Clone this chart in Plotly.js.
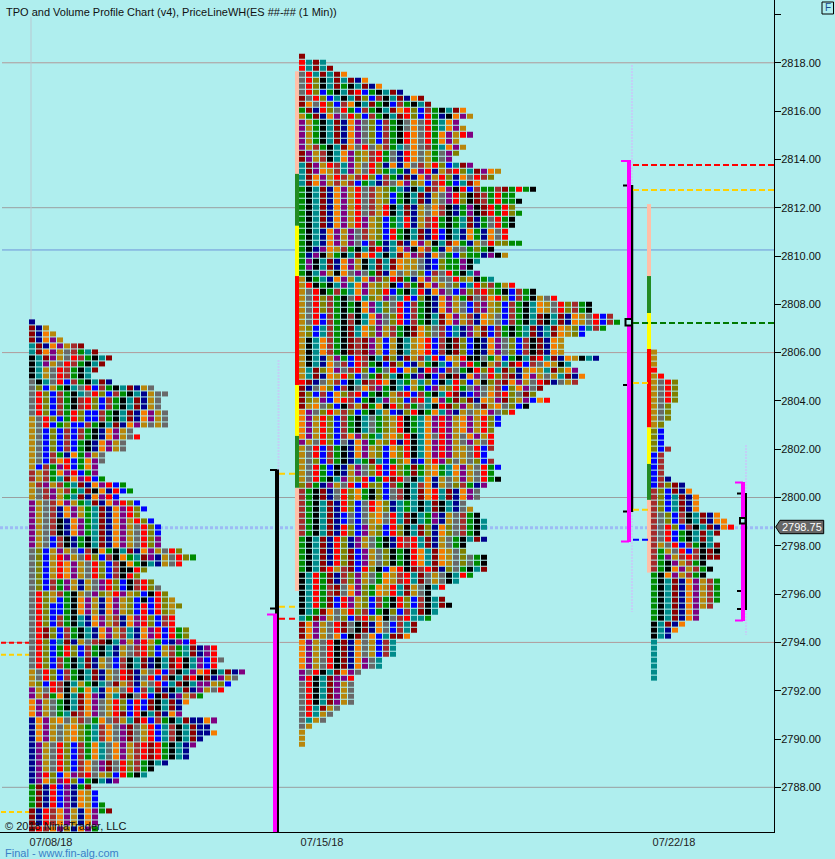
<!DOCTYPE html>
<html><head><meta charset="utf-8">
<script src="https://cdn.plot.ly/plotly-3.0.1.min.js"></script>
<style>html,body{margin:0;padding:0;background:#AFEEEE}#c{width:835px;height:859px}</style>
</head><body><div id="c"></div>
<script>
// TPO row lengths, top price downward
const topPrice1 = 2807.25;
const widths1 = [1,3,4,5,8,10,12,11,10,9,12,18,20,19,19,20,20,20,15,16,14,14,11,11,10,10,11,14,15,13,16,17,16,18,19,19,19,19,22,24,22,17,16,
18,19,20,21,22,21,21,21,23,23,24,27,27,28,27,31,30,29,28,25,23,22,22,27,26,27,25,24,23,23,20,18,17,13,9,10,10,11,12,10,10,10];
const topPrice2 = 2818.25;
const widths2 = [1,4,5,7,10,12,15,18,19,24,25,23,24,25,23,24,23,22,25,29,28,26,34,31,32,31,32,31,31,30,30,32,28,30,26,25,26,28,
31,34,37,42,42,45,46,44,41,38,38,38,43,39,40,41,40,35,34,36,33,31,29,29,28,28,28,28,27,28,29,28,29,27,26,26,24,25,26,
27,27,26,27,24,24,27,27,27,25,23,21,19,21,22,20,19,17,17,16,14,14,14,12,12,9,8,8,8,8,8,6,5,4,2,1,1,1];
const topPrice3 = 2806.0;
const widths3 = [1,1,1,1,2,4,4,4,4,3,3,3,2,2,2,2,3,2,2,2,2,3,5,6,7,7,7,10,11,12,10,9,10,10,10,8,9,8,10,10,10,10,9,7,7,5,4,3,1,1,1,1,1,1,1];

// Colour letters per row band: [first row, letters]
const colors1 = [[0,"N"],[1,"DNY"],[2,"DNOY"],[3,"DNOPY"],[4,"TDNOPYWD"],[5,"TDOPYAWGTD"],[6,"KTDPYARWGKTD"],[7,"KTPYARWGKTD"],[8,"KTYARWGKTD"],[10,"AKTARBWGKTDN"],
[11,"ALBYGKTARBWGKTDNYA"],[12,"ARLBWGKTARLBWGKTNYAA"],[13,"ARLBWGKWRLBWGKTDNYA"],[15,"ARLBWGRLBBWGKTDNOPYA"],[16,"YARLBGRLBBWGKTDNOPYA"],[17,"YARBGLBBWGKTDNOPYA"],
[18,"YABLBWBWGKNOPYA"],[19,"YABLBWBWGKNOPYAR"],[20,"YABLBWBGKNOPYA"],[22,"YABWGNOGPYA"],[23,"YABWORBGOPA"],[24,"YBWGPRBGOP"],[25,"WYWGOPRBGP"],[26,"WYWGTDOPRBG"],
[27,"YWPYWGTDNOPRBG"],[28,"YAWPYWGTDKONRBG"],[29,"YAWPYGTDNOPRB"],[30,"PYAWOPYGTDNOPRLB"],[31,"PYAWNOPYGTDNOPRLB"],[33,"PYAWKNOPGTDNOPYRLB"],[34,"PYAWKNOPGTDNOPYARLB"],
[36,"PYABWKNGKTDNOPYARL"],[38,"ALBYPYABWKOGKTDNOPYARLG"],[39,"ALBYRPYARLBWKOGTDPNYARLG"],[40,"ALBYROPYARLBWKOGKTNYARL"],[41,"ALBYROPYARLBWKKRL"],[42,"ALBYROPYARLBWKRL"],
[43,"ALBWGPYNYAPRLBKWRL"],[45,"ARLYWGKYAPLYRPYLBKRLY"],[46,"ARLYBGKOPYNOPYLBKBRLYL"],[47,"ARLBBGKOPYNOPYLBRBRLYL"],[49,"ARLBWGKTNOPYWNOPRLBWRL"],[51,"ARDLBWGKTNOPYWTNOPRBRGL"],
[53,"ARLBTDNYAWDKTPYPRYGBNPBR"],[54,"ARLBGRLBWGKTNYAWRLBYWGTDNPR"],[56,"ARLBWGKTDNYABWKTDNKTDRKTPBR"],[58,"YARLBWGKTDNYARDNYARBWKTPORKTDNP"],[59,"YARLBWGKTDNYARDNARBWKTDRKDNP"],
[60,"YLBRWKTYGKTADYWNYARBTDKTPP"],[61,"PYARWKYGOTNOYARBWTDNKTDN"],[62,"PYWGOKTDOPNYTDKARBKDN"],[63,"OPYAGKTDOPAYRLBRBDKTDN"],[65,"OPYAGTDWOPAYRDBRKTDN"],[66,"NOPYOAYWAGOAWYTDRBWGKTDN"],
[67,"NOPYAYOLGTWOAPDAYRBTWKTDN"],[70,"NPYARLBWGOTAOPYWRDRGKT"],[73,"NPYARLBWOAPDARLWGKTN"],[75,"NPRLBOPWRAYLBRGKT"],[76,"NPOLPRLBGKT"],[77,"GDNRBPN"],[78,"GDNRBPNOYBG"],[81,"DNRWOPYNOPG"],[84,"DRWOPYNOPG"]];
const colors2 = [[0,"D"],[1,"RTDT"],[2,"RTDTD"],[3,"ARTDTDO"],[4,"ARLKTDTDNO"],[5,"ARLKTDGKTDNO"],[6,"ARLBGKTDRBGKTDNO"],[7,"DARLBTKTDLBWKTDNO"],[8,"DOARLBWOKTDGKBWGKTDO"],
[9,"GDNRLARGBWGKTDORLBWGKTDOP"],[10,"YGDNOPARLBWGKTDRLBRGNKOPY"],[11,"PYGKTDNOPALBWGKAOARGTOPY"],[13,"PYGKTDNOPALBWGKROARGOPYR"],[15,"PYWGKTDOARAYWGTAOAWGTOPYA"],[16,"DPYWKTOPLYWRGANROAYGAPL"],
[18,"TDPYRWTPYARLNONOAWYRLB"],[19,"TDPOYWTPYARLGTGNOPRNYWRL"],[20,"TDOPYRWYWRLBWGNDNOPYRLNOARWL"],[21,"TDOPYWYWBGTNWAOPLYBWRGB"],[22,"GKTDNOPYRAWYLGTNKTDWOPKRBWGGWDGR"],[23,"GKTDNOPYRAWYLBGKTDNYAPRLKDWGRG"],
[25,"GKTDNOPYRAWYRKTDNYAOWKNGPKDRGRL"],[27,"GKTDNOPYRPYLBGTRNYWRGKGTDNGAR"],[29,"GKTNOPYPAWYLBRGKTDNRBKTNOGNOAR"],[31,"GKTNOPYPABWGNTDNOPYKTDOGNYARLLG"],[32,"GKNPOYWGKTDRNTOPKOWGNOAAGL"],
[33,"GNPKYGKTDORTKTDOPWNOAGBLG"],[34,"GPKTDNOPYKTDTDOYYANBLG"],[36,"GKTPYKOAPAGDNOAYALBWAR"],[37,"YKGTNOPYTOPWLRDGNOPYAARL"],[38,"YRKGKTPTOPYLYKBWGDOPYALBTRLWG"],[39,"YARKGWGTOPYLRBGKTRNOPABPLWRLGKBWGK"],
[40,"YARLWGKARTLYPATRBLKNOPYGDAWORLBWGK"],[41,"YARLWGKGKOPTLARBWGKNOPYABWPYLBWGKTO"],[43,"YARBWGKWKTOPALRBWGKTDOPYWNOYABWGKTDKTDNO"],[45,"YLBTWGKDTOLPYWGKDOLAWBTNPYDBWGKGTDNTDO"],[47,"YKTOWGKDWDPYBYKTYORBWKDLBKNOPALBWKDNO"],
[50,"YKTNYPGBRWKTDLNDYWTRBOYRKKAGYBGKTDRTDNO"],[51,"YKTNOAWBRWGKBDLBNYGKTBYPRGKYWTDRBWAO"],[52,"YTDLOPAWRLBGARBOLNRPBWAGKRLRTDLNYO"],[53,"YTDNOYRLBAGDLTKGNPKBWKDNOPARLWDNOPYA"],[54,"RDNAYWBKTDWROKTGYTLBKTRLBYKLWDOPYA"],
[55,"DNAOLBWKAOWPGKTBYGBPYLRGAPAYWBLOPA"],[56,"DLBWBOLWRBGKGYWRBWGKTRDNBPAOWRLA"],[57,"DLYPBORWBGKTPYLBWRTOPGDLDNOYP"],[58,"DYOALBKWYDGOKRLWGATKRDLPYA"],[59,"OPALRYWLBGKTYBNLRKGOTPNYAY"],[60,"OPYRLBWGKTAGLYRKGTOPRPY"],[63,"OPYRLBWOPLGTYOLRKTOARPYA"],
[64,"PYARLBANOPGYLRNRKTOPRPYA"],[65,"YARBWGKNOPYLBOLRKTOPRPY"],[67,"YALBWGKNTGDTBGLONBYRPLA"],[68,"YARGBKNYPALRBRLGDGYOGTOP"],[70,"YARGKTPYLRBGRDRAKTONYAYP"],[71,"LWGNPYARBRLLBWGKTWONYA"],[72,"WGKDNARLOGKLBAWKTDORTDNOPA"],
[74,"WGKTDNRLBAROLNTGTKTDKTNAY"],[76,"WGKTDNBABAYOARTDKTGPNYA"],[78,"WGKTDNRLBPYLBRLKTDLNOLA"],[80,"GKTDNRLNPYAGKNRWRTDNYA"],[82,"GKTDNRLDBPYALKGKROTDOYALA"],[85,"GKTDRYWDBRLKBORKDWRDNLA"],
[86,"KTRGDNWLPYAGOYWRTDAYA"],[88,"KTRGWDAOPLGOYRTDYA"],[90,"KTRGDBRPYLBWGKRLBWKTD"],[92,"KTGDOAYRLWBGKLBWTD"],[93,"TGDPYALBWRLOKAWRT"],[94,"DOPYARDAKDNOABWT"],[96,"DOPYAOBKDAOBTD"],[97,"OPYARKDNOAYBWT"],[100,"OPYARKDNOPAT"],
[102,"PARKTDOPA"],[103,"PRKTDP"],[104,"ARKTDPYA"],[108,"ARTDYA"],[109,"ARTY"],[110,"ATYA"],[111,"AY"],[112,"Y"]];
const colors3 = [[0,"Y"],[3,"R"],[4,"YR"],[5,"YARL"],[9,"YAL"],[12,"YL"],[13,"LB"],[16,"LBW"],[17,"BW"],[21,"BWN"],[22,"BWLDN"],[23,"WLBDNO"],[24,"WLBTDNO"],[27,"WALBWKTDNO"],[28,"WALBWKTDNOO"],[29,"WARLBWKTDNOR"],
[30,"WARBGKTDTD"],[32,"WYARBWGKTD"],[33,"WGYARBWKDK"],[34,"WGPYWRWKDD"],[35,"WGKPYWGK"],[36,"WGKOPYWGK"],[37,"GKOPYWGK"],[38,"GKTDNOPYWG"],[42,"GKTDNOPYW"],[43,"GKTDNOP"],[45,"KTDNO"],[46,"KTNO"],[47,"KTN"],[48,"T"]];

// Price markers
const gridGray = [2818,2812,2806,2800,2794,2788];
const gridBlue = [2810.25];
const lastPrice = 2798.75;
const lastPriceLabel = "2798.75";
const yTicks = [2788,2790,2792,2794,2796,2798,2800,2802,2804,2806,2808,2810,2812,2814,2816,2818,2820];
const dateLabels = ["07/08/18","07/15/18","07/22/18"];
const valueBands2 = [[2817.65,2813.4,"#FFC0A8"],[2813.4,2811.25,"#228B22"],[2811.25,2809.17,"#FFFF00"],[2809.17,2804.66,"#FF0000"],[2804.66,2802.55,"#FFFF00"],[2802.55,2800.4,"#228B22"],[2800.4,2796.13,"#FFC0A8"]];
const valueBands3 = [[2812.15,2809.17,"#FFC0A8"],[2809.17,2807.64,"#228B22"],[2807.64,2806.15,"#FFFF00"],[2806.15,2802.9,"#FF0000"],[2802.9,2801.39,"#FFFF00"],[2801.39,2799.9,"#228B22"],[2799.9,2796.89,"#FFC0A8"]];

const letters = "RBNDOPGTKALYW";
const palette = ["#FF0000","#0000FF","#00008B","#8B0000","#F57C00","#800080","#008B00","#008B8B","#000000","#696969","#808000","#B8860B","#A52A2A"];
const scale = [];
palette.forEach((c,i)=>{scale.push([i/13,c]);scale.push([(i+1)/13,c]);});

function profile(x0, topP, widths, cols){
  const maxW = Math.max(...widths);
  const z = widths.map((w,r)=>{
    let t = cols[0][1];
    cols.forEach(c=>{ if(c[0]<=r) t=c[1]; });
    const row = new Array(maxW).fill(null);
    for(let i=0;i<w;i++) row[i]=letters.indexOf(t[i%t.length])+0.5;
    return row;
  }).reverse();
  return {type:"heatmap",z:z,x0:x0+3.5,dx:7,y0:topP-(widths.length-1)*0.25,dy:0.25,xgap:1,ygap:1,
    colorscale:scale,zmin:0,zmax:13,showscale:false,hoverinfo:"skip",zsmooth:false};
}
const traces=[profile(29,topPrice1,widths1,colors1),profile(299,topPrice2,widths2,colors2),profile(651,topPrice3,widths3,colors3)];

const pMin=2786.15,pMax=2820.6;
const py=y=>2800+(497.5-y)/24.15;
const W=774,H=832;
const shapes=[];
function hl(x0,x1,p,color,w,dash,layer){shapes.push({type:"line",xref:"x",yref:"y",x0,x1,y0:p,y1:p,line:{color,width:w,dash:dash||"solid"},layer:layer||"above"});}
function vl(x,p0,p1,color,w,dash,layer){shapes.push({type:"line",xref:"x",yref:"y",x0:x,x1:x,y0:p0,y1:p1,line:{color,width:w,dash:dash||"solid"},layer:layer||"above"});}
gridGray.forEach(p=>hl(2,W,p,(p==2812||p==2800||p==2788)?"#9a9fa0":"#b09a9a",1,"solid","below"));
gridBlue.forEach(p=>hl(2,W,p,"#6E94D8",1,"solid","below"));
hl(0,W,lastPrice,"#9DBBF5",3,"3px,2px","below");
// ghost volume columns
vl(31,py(320),py(17),"#B9C8D0",1,"solid","below");
vl(278.5,py(360),py(682),"#C3CFF6",2,"2px,1px","below");
vl(632,py(65),py(612),"#C3CFF6",2,"2px,1px","below");
vl(746,py(445),py(635),"#C3CFF6",2,"2px,1px","below");
// value bars
valueBands2.forEach(b=>shapes.push({type:"rect",xref:"x",yref:"y",x0:295,x1:299,y0:b[0],y1:b[1],fillcolor:b[2],line:{width:0},layer:"above"}));
valueBands3.forEach(b=>shapes.push({type:"rect",xref:"x",yref:"y",x0:647,x1:651,y0:b[0],y1:b[1],fillcolor:b[2],line:{width:0},layer:"above"}));
// left session dashes
const red="#FF0000",gold="#FFD000",mag="#FF00FF";
hl(1,29,py(642.7),red,2,"5px,3px");
hl(1,29,py(654.7),gold,2,"5px,3px");
hl(1,29,py(812),gold,2,"5px,3px");
// bracket 1
vl(277,py(469.5),py(832),"#000",4);
hl(270,277,py(470),"#000",2);
hl(270,277,py(608.5),"#000",2);
vl(275,py(614),py(832),mag,4);
hl(267,277,py(614.5),mag,2);
hl(279,299,py(473.7),gold,2,"6px,4px");
hl(279,299,py(606.7),gold,2,"6px,4px");
hl(279,299,py(618.7),red,2,"6px,4px");
// bracket 2
vl(632,py(185),py(512),"#000",2.5);
vl(629,py(160),py(542),mag,4);
hl(621,629,py(161),mag,2);
hl(621,629,py(541.5),mag,2);
hl(623,627,py(185.5),"#000",2);
hl(623,627,py(385),"#000",2);
hl(623,627,py(511.5),"#000",2);
shapes.push({type:"rect",xref:"x",yref:"y",x0:625.5,x1:632,y0:py(319),y1:py(325.5),fillcolor:"#AFEEEE",line:{color:"#000",width:2},layer:"above"});
hl(633,W,py(165),red,2,"6px,3px");
hl(633,W,py(190),gold,2,"6px,3px");
hl(633,W,py(323),"#007800",2,"6px,3px");
hl(633,651,py(383),gold,2,"6px,3px");
hl(633,648,py(509.7),gold,2,"6px,3px");
hl(633,648,py(539.7),"#0000FF",2,"6px,3px");
// bracket 3
vl(746,py(493),py(610),"#000",2);
vl(743,py(482),py(621),mag,4);
hl(735,743,py(482.5),mag,2);
hl(735,743,py(620.5),mag,2);
hl(737,741,py(493.5),"#000",2);
hl(737,741,py(591),"#000",2);
hl(737,741,py(609),"#000",2);
shapes.push({type:"rect",xref:"x",yref:"y",x0:740,x1:745.5,y0:py(518),y1:py(523.5),fillcolor:"#AFEEEE",line:{color:"#000",width:2},layer:"above"});
// last price tag and F box
const px=(x,y)=>(x/W).toFixed(5)+","+(1-y/H).toFixed(5);
shapes.push({type:"path",xref:"paper",yref:"paper",path:"M"+px(775.7,527)+"L"+px(780,520.3)+"L"+px(823.7,520.3)+"L"+px(823.7,533.7)+"L"+px(780,533.7)+"Z",fillcolor:"#666666",line:{color:"#000",width:1},layer:"above"});
shapes.push({type:"rect",xref:"paper",yref:"paper",x0:822/W,x1:833.5/W,y0:1-2/H,y1:1-14/H,fillcolor:"rgba(0,0,0,0)",line:{color:"#000",width:1},layer:"above"});

const font="'Liberation Sans', Arial, sans-serif";
const annotations=[
 {xref:"paper",yref:"paper",x:3/W,y:1-826/H,xanchor:"left",yanchor:"middle",text:"© 2018 NinjaTrader, LLC",showarrow:false,font:{family:font,size:11,color:"#111"}},
 {xref:"paper",yref:"paper",x:3/W,y:1-853/H,xanchor:"left",yanchor:"middle",text:"Final - www.fin-alg.com",showarrow:false,font:{family:font,size:11,color:"#3A80C8"}},
 {xref:"paper",yref:"paper",x:802/W,y:1-527/H,xanchor:"center",yanchor:"middle",text:lastPriceLabel,showarrow:false,font:{family:font,size:11,color:"#FFFFFF"}},
 {xref:"paper",yref:"paper",x:828/W,y:1-8/H,xanchor:"center",yanchor:"middle",text:"F",showarrow:false,font:{family:font,size:10,color:"#1A4A90"}}
];

Plotly.newPlot("c",traces,{
 width:835,height:859,autosize:false,
 paper_bgcolor:"#AFEEEE",plot_bgcolor:"#AFEEEE",
 margin:{l:0,r:61,t:0,b:27,pad:0},
 showlegend:false,
 title:{text:"TPO and Volume Profile Chart (v4), PriceLineWH(ES ##-## (1 Min))",x:6/835,xanchor:"left",y:1-12/859,yanchor:"middle",font:{family:font,size:11,color:"#111"}},
 xaxis:{range:[0,W],showgrid:false,zeroline:false,showline:true,linecolor:"#000",linewidth:1,ticks:"",tickmode:"array",tickvals:[51,322,674],ticktext:dateLabels,tickfont:{family:font,size:11,color:"#222"},fixedrange:true},
 yaxis:{range:[pMin,pMax],side:"right",showgrid:false,zeroline:false,showline:true,linecolor:"#000",linewidth:1,ticks:"outside",ticklen:6,tickcolor:"#000",tickwidth:1,ticklabelstandoff:-2,tickmode:"array",tickvals:yTicks,ticktext:yTicks.map(v=>v===2820?"":v.toFixed(2)),tickfont:{family:font,size:11,color:"#111"},fixedrange:true},
 shapes,annotations
},{displayModeBar:false,staticPlot:true});
</script></body></html>
